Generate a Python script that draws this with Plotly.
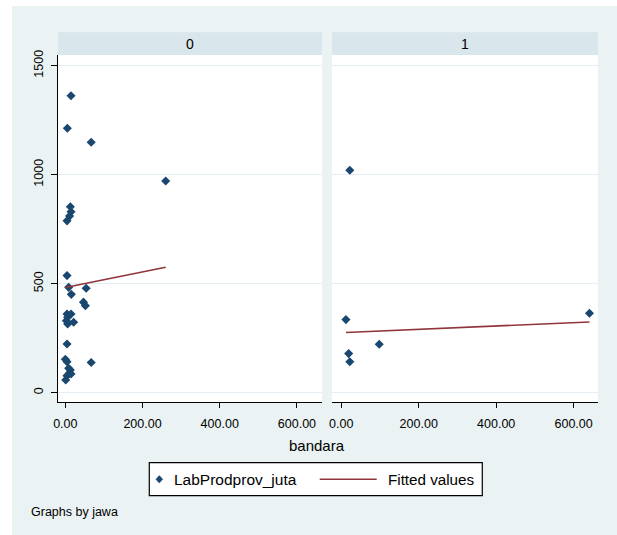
import plotly.graph_objects as go

# ---- data ----
panels = ["0", "1"]
left_x = [14.7, 5.2, 67, 260, 13, 14.7, 11, 4.4, 4.4, 8.6, 54, 15.5, 47, 52, 4.4, 14.7,
          6, 2.6, 6, 21.5, 4.4, 0, 4.4, 67, 8.6, 13, 11, 14.7, 4.3, 1]
left_y = [1362, 1213, 1149, 971, 853, 830, 810, 788, 537, 483, 479, 451, 415, 399, 361, 361,
          346, 330, 315, 323, 223, 153, 142, 138, 112, 104, 89, 86, 78, 58]
right_x = [22, 12, 641, 98, 19, 22]
right_y = [1020, 335, 364, 222, 179, 142]
fit_left_x = [0, 260]
fit_left_y = [482, 575]
fit_right_x = [12, 641]
fit_right_y = [276, 324]
y_ticks = [0, 500, 1000, 1500]
x_ticks = [0, 200, 400, 600]

NAVY = "#1a476f"
MAROON = "#90353b"
BG = "#eaf2f3"
STRIP = "#d9e6eb"
GRID = "#e4edf1"
FONT = "Liberation Sans, Arial, sans-serif"

W, H = 617, 535
L, R, T, B = 58, 598, 55, 402  # plot area in px


def px(x):
    return (x - L) / (R - L)


def py(y):
    return (B - y) / (B - T)


fig = go.Figure()
fig.add_trace(go.Scatter(x=left_x, y=left_y, mode="markers", xaxis="x", yaxis="y",
                         marker=dict(symbol="diamond", size=7, color=NAVY),
                         name="LabProdprov_juta", showlegend=False))
fig.add_trace(go.Scatter(x=fit_left_x, y=fit_left_y, mode="lines", xaxis="x", yaxis="y",
                         line=dict(color=MAROON, width=1.6), name="Fitted values",
                         showlegend=False))
fig.add_trace(go.Scatter(x=right_x, y=right_y, mode="markers", xaxis="x2", yaxis="y2",
                         marker=dict(symbol="diamond", size=7, color=NAVY),
                         name="LabProdprov_juta", showlegend=False))
fig.add_trace(go.Scatter(x=fit_right_x, y=fit_right_y, mode="lines", xaxis="x2", yaxis="y2",
                         line=dict(color=MAROON, width=1.6), name="Fitted values",
                         showlegend=False))

xcommon = dict(tickvals=x_ticks, tickformat=".2f", showgrid=False, zeroline=False,
               showline=True, linecolor="black", linewidth=1.2, ticks="outside",
               ticklen=5, tickcolor="black", tickwidth=1.2,
               tickfont=dict(family=FONT, size=12.5, color="black"),
               ticklabelstandoff=5)
ycommon = dict(range=[-43, 1549], tickvals=y_ticks, showgrid=True, gridcolor=GRID,
               gridwidth=1.3, zeroline=False)

fig.update_layout(
    width=W, height=H,
    margin=dict(l=L, r=W - R, t=T, b=H - B, pad=0),
    paper_bgcolor=BG, plot_bgcolor="white",
    showlegend=False,
    xaxis=dict(domain=[0, px(322)], range=[-19, 665], **xcommon),
    xaxis2=dict(domain=[px(332), 1], range=[-24, 663], **xcommon),
    yaxis=dict(anchor="x", showline=True, linecolor="black", linewidth=1.2,
               ticks="outside", ticklen=6, tickcolor="black", tickwidth=1.2,
               tickangle=-90, tickfont=dict(family=FONT, size=12.5, color="black"),
               ticklabelstandoff=3, **ycommon),
    yaxis2=dict(anchor="x2", matches="y", showticklabels=False, showline=False,
                ticks="", **ycommon),
)

shapes = []
# white outer border (top and left)
shapes.append(dict(type="rect", xref="paper", yref="paper", x0=px(0), x1=px(W),
                   y0=py(6), y1=py(0), fillcolor="white", line=dict(width=0), layer="below"))
shapes.append(dict(type="rect", xref="paper", yref="paper", x0=px(0), x1=px(12),
                   y0=py(H), y1=py(0), fillcolor="white", line=dict(width=0), layer="below"))
# strips
for xa in ["x", "x2"]:
    shapes.append(dict(type="rect", xref=f"{xa} domain", yref="paper", x0=0, x1=1,
                       y0=py(55), y1=py(32.3), fillcolor=STRIP, line=dict(width=0),
                       layer="below"))
# legend box
shapes.append(dict(type="rect", xref="paper", yref="paper", x0=px(149.3), x1=px(482.3),
                   y0=py(495.7), y1=py(462.7), fillcolor="white",
                   line=dict(color="black", width=1.2)))
# legend line
shapes.append(dict(type="line", xref="paper", yref="paper", x0=px(319.7), x1=px(376.7),
                   y0=py(479.3), y1=py(479.3), line=dict(color=MAROON, width=1.6)))
# legend diamond marker
cx, cy, r = 159.3, 479.3, 3.8
path = (f"M {px(cx)} {py(cy - r)} L {px(cx + r * 0.9)} {py(cy)} "
        f"L {px(cx)} {py(cy + r)} L {px(cx - r * 0.9)} {py(cy)} Z")
shapes.append(dict(type="path", xref="paper", yref="paper", path=path,
                   fillcolor=NAVY, line=dict(color=NAVY, width=0.5)))
fig.update_layout(shapes=shapes)

annotations = []
for xa, label in zip(["x", "x2"], panels):
    annotations.append(dict(xref=f"{xa} domain", yref="paper", x=0.5, y=py(43.6),
                            text=label, showarrow=False, xanchor="center", yanchor="middle",
                            font=dict(family=FONT, size=14, color="black")))
annotations.append(dict(xref="paper", yref="paper", x=px(316.7), y=py(445.5), text="bandara",
                        showarrow=False, xanchor="center", yanchor="middle",
                        font=dict(family=FONT, size=15, color="black")))
annotations.append(dict(xref="paper", yref="paper", x=px(171.5), y=py(479.3),
                        text="LabProdprov_juta", showarrow=False, xanchor="left",
                        yanchor="middle", font=dict(family=FONT, size=15.5, color="black")))
annotations.append(dict(xref="paper", yref="paper", x=px(385.5), y=py(479.3),
                        text="Fitted values", showarrow=False, xanchor="left",
                        yanchor="middle", font=dict(family=FONT, size=15.2, color="black")))
annotations.append(dict(xref="paper", yref="paper", x=px(28.5), y=py(512), text="Graphs by jawa",
                        showarrow=False, xanchor="left", yanchor="middle",
                        font=dict(family=FONT, size=12.5, color="black")))
fig.update_layout(annotations=annotations)

fig.write_html(
    "out.html",
    config={"displayModeBar": False},
    post_script="document.body.style.margin='0';document.body.style.overflow='hidden';",
)
